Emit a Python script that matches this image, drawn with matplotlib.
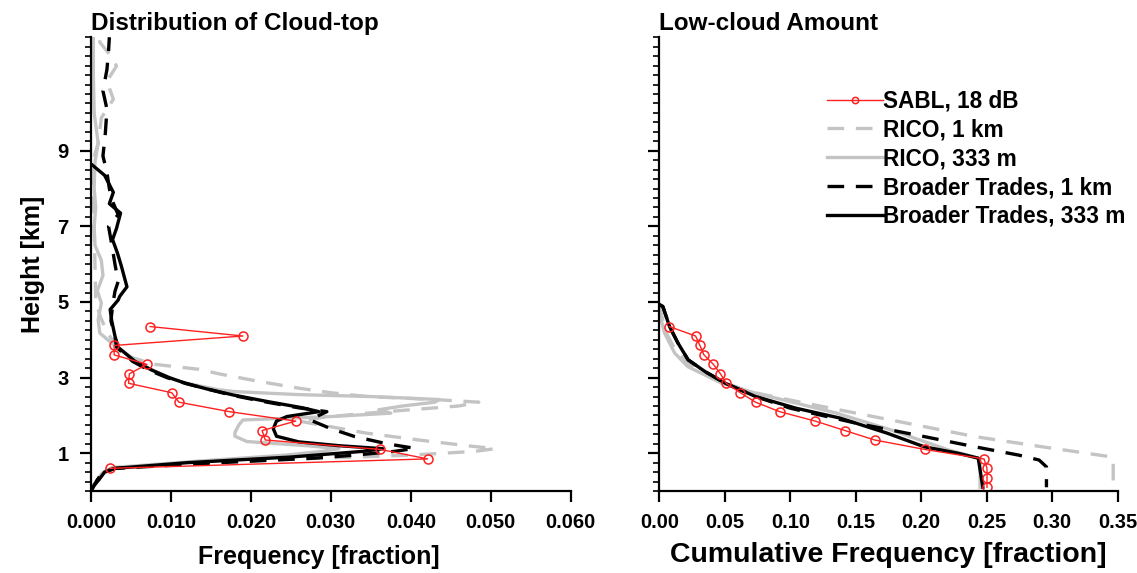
#!/usr/bin/env python3
"""
Cloud-top distribution and low-cloud amount profiles (SABL vs model runs).
Values read off the reference figure.
"""

import matplotlib
matplotlib.use("Agg")
import matplotlib.pyplot as plt
from matplotlib.ticker import MultipleLocator, FixedLocator, FormatStrFormatter

plt.rcParams["font.family"] = ["Liberation Sans", "DejaVu Sans"]
plt.rcParams["font.weight"] = "bold"

GRAY = "#c4c4c4"
RED = "#ff2020"

# ---- left panel: cloud-top frequency profiles (height km, frequency) ----
sabl_h = [0.60, 0.85, 1.10, 1.35, 1.60, 1.85, 2.10, 2.35, 2.60, 2.85, 3.10, 3.35, 3.60, 3.85, 4.10, 4.35]
sabl_f = [0.0024, 0.0421, 0.0362, 0.0218, 0.0214, 0.0256, 0.0173, 0.0110, 0.0101, 0.0047,
          0.0048, 0.0070, 0.0029, 0.0029, 0.0190, 0.0074]

rico1k_h = [0.0, 0.15, 0.3, 0.5, 0.6, 0.75, 0.85, 0.95, 1.05, 1.12, 1.2, 1.35, 1.53, 1.7, 1.85,
            1.95, 2.05, 2.15, 2.25, 2.35, 2.42, 2.5, 2.6, 2.72, 2.9, 3.1, 3.22, 3.35, 3.6,
            3.9, 4.2, 4.6, 5.0, 6.0, 7.0, 8.0, 8.77, 9.2, 9.87, 10.36, 10.84, 11.24, 11.5,
            11.87, 12.0]
rico1k_f = [0.0, 0.0003, 0.0008, 0.0015, 0.0030, 0.014, 0.026, 0.040, 0.048, 0.0505, 0.047,
            0.041, 0.0345, 0.030, 0.026, 0.029, 0.034, 0.040, 0.046, 0.0485, 0.043, 0.0345,
            0.030, 0.026, 0.021, 0.016, 0.0135, 0.008, 0.004, 0.003, 0.0020, 0.0012, 0.0006,
            0.0005, 0.0004, 0.0003, 0.0003, 0.0009, 0.0013, 0.0028, 0.0020, 0.0032, 0.0025,
            0.0011, 0.0012]

rico333_h = [0.0, 0.15, 0.3, 0.5, 0.62, 0.8, 0.95, 1.05, 1.12, 1.2, 1.31, 1.45, 1.55, 1.75,
             1.88, 1.97, 2.06, 2.15, 2.25, 2.35, 2.42, 2.5, 2.55, 2.63, 2.68, 2.85, 3.0, 3.29,
             3.65, 3.91, 4.18, 4.53, 4.97, 5.3, 5.7, 6.1, 6.5, 7.0, 7.5, 8.0, 8.7, 9.2, 10.0,
             11.0, 12.0]
rico333_f = [0.0, 0.0003, 0.0008, 0.0015, 0.0026, 0.014, 0.0243, 0.029, 0.031, 0.027, 0.0195,
             0.018, 0.018, 0.0185, 0.019, 0.030, 0.0375, 0.036, 0.039, 0.043, 0.0436, 0.035,
             0.026, 0.018, 0.0159, 0.012, 0.0095, 0.0068, 0.0043, 0.0026, 0.0011, 0.0009,
             0.0013, 0.0008, 0.0015, 0.0013, 0.0005, 0.0004, 0.0006, 0.0004, 0.0005, 0.0009,
             0.0004, 0.0003, 0.0003]

bt1k_h = [0.0, 0.15, 0.3, 0.5, 0.6, 0.75, 0.87, 0.95, 1.05, 1.13, 1.25, 1.44, 1.65, 1.88, 2.0,
          2.1, 2.2, 2.37, 2.54, 2.7, 2.85, 3.0, 3.2, 3.43, 3.8, 4.1, 4.5, 4.9, 5.28, 5.54, 6.0,
          6.52, 7.0, 7.31, 7.71, 8.0, 8.42, 8.86, 9.47, 10.1, 10.58, 11.15, 11.64, 12.0]
bt1k_f = [0.0, 0.0004, 0.0008, 0.0015, 0.0030, 0.016, 0.028, 0.033, 0.038, 0.0405, 0.037,
          0.033, 0.030, 0.0274, 0.0285, 0.0295, 0.026, 0.0215, 0.0175, 0.0145, 0.0118, 0.0095,
          0.0072, 0.0052, 0.0032, 0.0030, 0.0025, 0.0027, 0.0030, 0.0034, 0.0030, 0.0026,
          0.0022, 0.0034, 0.0026, 0.0023, 0.0020, 0.0015, 0.0018, 0.0020, 0.0015, 0.0020,
          0.0022, 0.0023]

bt333_h = [0.0, 0.15, 0.3, 0.5, 0.6, 0.75, 0.9, 1.05, 1.12, 1.2, 1.3, 1.45, 1.65, 1.85, 1.97,
           2.1, 2.2, 2.37, 2.54, 2.7, 2.85, 3.0, 3.2, 3.43, 3.8, 4.1, 4.5, 4.8, 5.05, 5.15,
           5.4, 5.95, 6.3, 6.65, 6.95, 7.35, 7.6, 7.9, 8.35, 8.65]
bt333_f = [0.0, 0.0004, 0.0010, 0.0017, 0.0030, 0.012, 0.025, 0.034, 0.0365, 0.031, 0.026,
           0.0232, 0.0228, 0.0232, 0.0245, 0.0285, 0.0265, 0.022, 0.0178, 0.0145, 0.0118,
           0.0098, 0.0076, 0.0055, 0.0034, 0.0030, 0.0026, 0.0024, 0.0034, 0.0036, 0.0045,
           0.0038, 0.0033, 0.0027, 0.0032, 0.0037, 0.0023, 0.0028, 0.0017, 0.0]

# ---- right panel: cumulative frequency from the top down ----
sabl_ch = [4.35, 4.10, 3.85, 3.60, 3.35, 3.10, 2.85, 2.60, 2.35, 2.10, 1.85, 1.60, 1.35, 1.10,
           0.85, 0.60, 0.35, 0.10]
sabl_cf = [0.0075, 0.0276, 0.0309, 0.0340, 0.0412, 0.0466, 0.0510, 0.0618, 0.0734, 0.0918,
           0.1190, 0.1417, 0.1644, 0.2028, 0.2479, 0.2502, 0.2502, 0.2502]

rico1k_ch = [4.93, 4.6, 4.2, 3.8, 3.4, 3.0, 2.63, 2.32, 1.88, 1.44, 1.17, 0.91, 0.85, 0.1]
rico1k_cf = [0.0, 0.002, 0.005, 0.011, 0.021, 0.040, 0.0683, 0.1121, 0.1765, 0.241, 0.2925,
             0.344, 0.3466, 0.3466]

rico333_ch = [4.93, 4.5, 4.18, 3.65, 3.29, 2.85, 2.59, 2.06, 1.62, 1.09, 0.91, 0.85, 0.1]
rico333_cf = [0.0, 0.0015, 0.0039, 0.0116, 0.0216, 0.0477, 0.0734, 0.1353, 0.1765, 0.2204,
              0.2397, 0.2449, 0.2449]

bt1k_ch = [4.93, 4.88, 4.35, 3.91, 3.47, 3.16, 2.85, 2.5, 2.19, 1.79, 1.44, 1.17, 0.95, 0.82,
           0.64, 0.1]
bt1k_cf = [0.0, 0.0026, 0.0077, 0.0142, 0.0219, 0.0348, 0.0503, 0.0734, 0.1000, 0.1508,
           0.2023, 0.241, 0.2745, 0.290, 0.2956, 0.2956]

bt333_ch = [4.93, 4.88, 4.35, 3.91, 3.47, 3.16, 2.85, 2.5, 2.19, 1.93, 1.53, 1.17, 1.0, 0.87,
            0.1]
bt333_cf = [0.0, 0.0026, 0.0077, 0.0142, 0.0219, 0.0348, 0.0503, 0.0734, 0.1044, 0.1379,
            0.174, 0.2023, 0.2281, 0.2435, 0.2470]

LW = 2.4
DASH = (0, (5, 3.5))


def style_axes(ax):
    for side in ("top", "right"):
        ax.spines[side].set_visible(False)
    for side in ("left", "bottom"):
        ax.spines[side].set_linewidth(1.6)
    ax.set_ylim(0, 12)
    ax.yaxis.set_major_locator(FixedLocator([1, 3, 5, 7, 9]))
    ax.yaxis.set_minor_locator(MultipleLocator(0.25))
    ax.tick_params(axis="both", which="major", direction="out", length=8, width=1.6,
                   labelsize=14.5, pad=8)
    ax.tick_params(axis="y", which="minor", direction="out", length=4, width=1.2)
    for lab in ax.get_xticklabels() + ax.get_yticklabels():
        lab.set_fontweight("bold")


def draw(ax, series, sabl):
    (g1h, g1f), (g3h, g3f), (b1h, b1f), (b3h, b3f) = series
    ax.plot(g1f, g1h, color=GRAY, lw=LW, ls=DASH, label="RICO, 1 km")
    ax.plot(g3f, g3h, color=GRAY, lw=LW, label="RICO, 333 m")
    ax.plot(b1f, b1h, color="black", lw=LW, ls=DASH, label="Broader Trades, 1 km")
    ax.plot(b3f, b3h, color="black", lw=LW, label="Broader Trades, 333 m")
    ax.plot(sabl[1], sabl[0], color=RED, lw=1.0, marker="o", ms=6.5, mfc="none",
            mec=RED, mew=1.1, label="SABL, 18 dB")


fig = plt.figure(figsize=(11.37, 5.73), dpi=100)
ax1 = fig.add_axes([0.080, 0.143, 0.422, 0.792])
ax2 = fig.add_axes([0.580, 0.143, 0.403, 0.792])

draw(ax1, [(rico1k_h, rico1k_f), (rico333_h, rico333_f), (bt1k_h, bt1k_f), (bt333_h, bt333_f)],
     (sabl_h, sabl_f))
draw(ax2, [(rico1k_ch, rico1k_cf), (rico333_ch, rico333_cf), (bt1k_ch, bt1k_cf),
           (bt333_ch, bt333_cf)], (sabl_ch, sabl_cf))

ax1.set_xlim(0, 0.06)
ax1.xaxis.set_major_locator(MultipleLocator(0.01))
ax1.xaxis.set_major_formatter(FormatStrFormatter("%.3f"))
ax2.set_xlim(0, 0.35)
ax2.xaxis.set_major_locator(MultipleLocator(0.05))
ax2.xaxis.set_major_formatter(FormatStrFormatter("%.2f"))

style_axes(ax1)
style_axes(ax2)
ax2.tick_params(axis="y", labelleft=False)

ax1.set_title("Distribution of Cloud-top", loc="left", fontsize=17.5, fontweight="bold", pad=5)
ax2.set_title("Low-cloud Amount", loc="left", fontsize=17.5, fontweight="bold", pad=5)
ax1.set_ylabel("Height [km]", fontsize=18, fontweight="bold", labelpad=9)
ax1.set_xlabel("Frequency [fraction]", fontsize=18, fontweight="bold", labelpad=9)
ax1.xaxis.label.set_x(0.475)
ax2.set_xlabel("Cumulative Frequency [fraction]", fontsize=20.5, fontweight="bold", labelpad=7)

handles, labels = ax2.get_legend_handles_labels()
order = [4, 0, 1, 2, 3]
ax2.legend([handles[i] for i in order], [labels[i] for i in order],
           loc="upper left", bbox_to_anchor=(0.365, 0.885), frameon=False,
           handlelength=2.5, handletextpad=0.0, labelspacing=0.26, borderpad=0,
           borderaxespad=0, numpoints=1, markerscale=0.7,
           prop={"size": 16.3, "weight": "bold"})

fig.savefig("out.png", dpi=100)
